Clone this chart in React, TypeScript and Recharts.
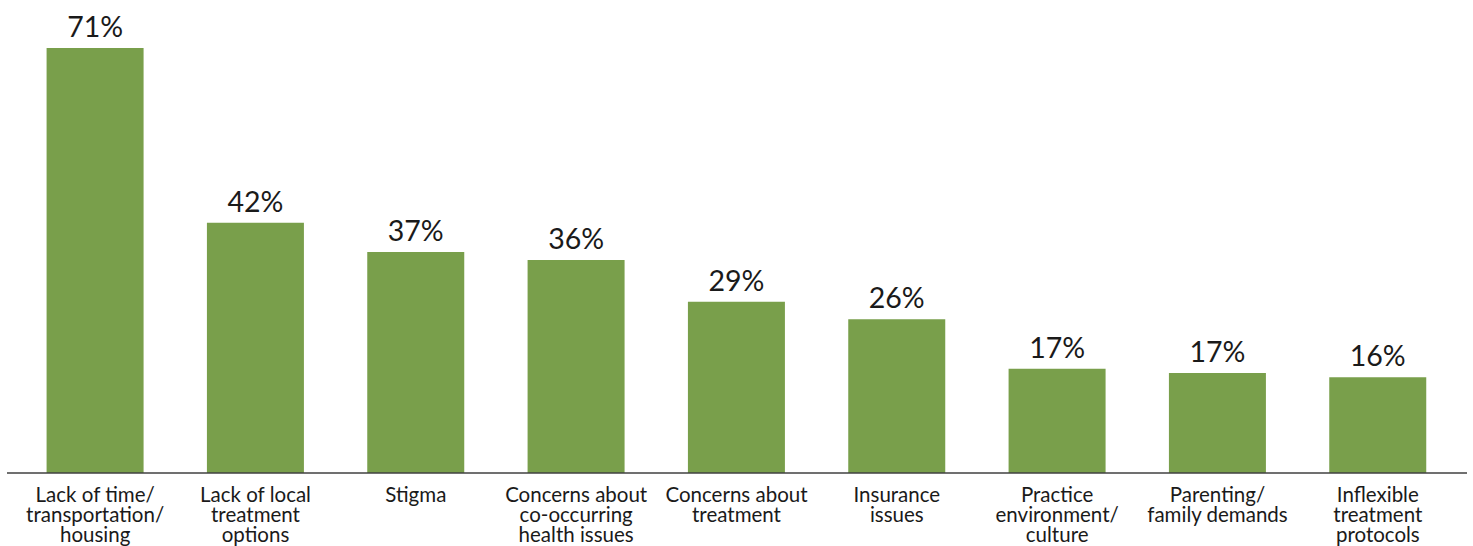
import React from 'react';
import { BarChart, Bar, XAxis, YAxis, LabelList } from 'recharts';

const categories = [
  'Lack of time/\ntransportation/\nhousing',
  'Lack of local\ntreatment\noptions',
  'Stigma',
  'Concerns about\nco-occurring\nhealth issues',
  'Concerns about\ntreatment',
  'Insurance\nissues',
  'Practice\nenvironment/\nculture',
  'Parenting/\nfamily demands',
  'Inflexible\ntreatment\nprotocols',
];

const percents = [71, 41.8, 36.9, 35.6, 28.6, 25.7, 17.4, 16.7, 16.0];

const data = categories.map((name, i) => ({ name, value: percents[i] }));

const FONT = 'Lato, "Open Sans", sans-serif';
const TEXT = '#1a1a1a';

const CategoryTick = (props: any) => {
  const { x, y, payload } = props;
  const lines = String(payload.value).split('\n');
  return (
    <text x={x} y={y} textAnchor="middle" fill={TEXT} fontSize={20.5} fontFamily={FONT}>
      {lines.map((line, i) => (
        <tspan key={i} x={x} dy={i === 0 ? 29 : 20}>
          {line}
        </tspan>
      ))}
    </text>
  );
};

const ValueLabel = (props: any) => {
  const { x, y, width, value } = props;
  return (
    <text x={x + width / 2} y={y - 11} textAnchor="middle" fill={TEXT} fontSize={28.5} fontFamily={FONT}>
      {Math.round(value)}%
    </text>
  );
};

const App: React.FC = () => {
  return (
    <div style={{ position: 'absolute', left: 0, top: 0, background: '#fff' }}>
      <BarChart
        width={1473}
        height={546}
        data={data}
        margin={{ top: 48, right: 6, left: 7, bottom: 0 }}
        barCategoryGap="19.7%"
      >
        <XAxis
          dataKey="name"
          interval={0}
          tickLine={false}
          tickSize={0}
          tickMargin={0}
          height={73}
          padding={{ left: 8, right: 9 }}
          axisLine={{ stroke: '#404040', strokeWidth: 1.5 }}
          tick={<CategoryTick />}
        />
        <YAxis hide type="number" scale="linear" domain={[0, 'dataMax']} />
        <Bar dataKey="value" fill="#799f4b" isAnimationActive={false}>
          <LabelList dataKey="value" content={<ValueLabel />} />
        </Bar>
      </BarChart>
    </div>
  );
};

export default App;
